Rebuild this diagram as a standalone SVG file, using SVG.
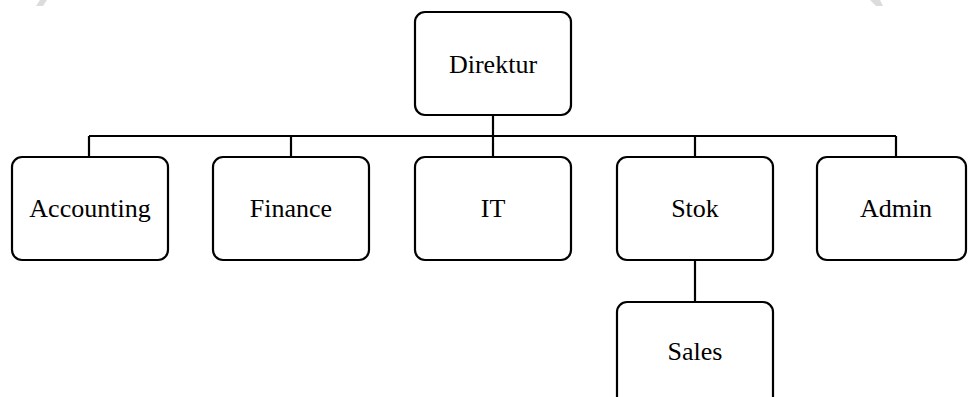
<svg xmlns="http://www.w3.org/2000/svg" width="968" height="397" viewBox="0 0 968 397">
<style>
.box{fill:#fff;stroke:#000;stroke-width:2.2}
.lbl{font-family:"Liberation Serif","Times New Roman",serif;font-size:26px;fill:#000;text-anchor:middle}
.conn{fill:none;stroke:#000;stroke-width:2.2}
</style>
<rect width="968" height="397" fill="#fff"/>
<polygon points="36,6 40,0 47,0 43,6" fill="#dcdcdc"/>
<polygon points="870,0 880,0 883,6 876,6" fill="#dcdcdc"/>
<g id="connectors">
<path class="conn" d="M493,115 V136 M89,136 H896 M89,136 V157 M291,136 V157 M493,136 V157 M695,136 V157 M896,136 V157 M695,260 V302"/>
</g>
<g id="direktur"><rect class="box" x="415" y="12" width="156" height="103" rx="10"/><text class="lbl" x="493" y="73">Direktur</text></g>
<g id="accounting"><rect class="box" x="12" y="157" width="156" height="103" rx="10"/><text class="lbl" x="90" y="217">Accounting</text></g>
<g id="finance"><rect class="box" x="213" y="157" width="156" height="103" rx="10"/><text class="lbl" x="291" y="217">Finance</text></g>
<g id="it"><rect class="box" x="415" y="157" width="156" height="103" rx="10"/><text class="lbl" x="493" y="217">IT</text></g>
<g id="stok"><rect class="box" x="617" y="157" width="156" height="103" rx="10"/><text class="lbl" x="695" y="217">Stok</text></g>
<g id="admin"><rect class="box" x="817" y="157" width="149" height="103" rx="10"/><text class="lbl" x="896" y="217">Admin</text></g>
<g id="sales"><rect class="box" x="617" y="302" width="156" height="110" rx="10"/><text class="lbl" x="695" y="360">Sales</text></g>
</svg>
